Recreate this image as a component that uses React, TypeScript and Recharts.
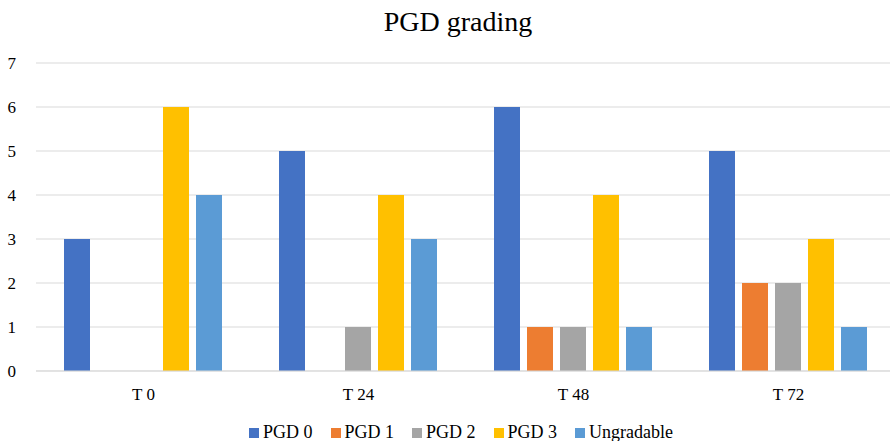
import React from "react";
import { BarChart, Bar, XAxis, YAxis, CartesianGrid, Legend } from "recharts";

const categories = ["T 0", "T 24", "T 48", "T 72"];
const pgd0 = [3, 5, 6, 5];
const pgd1 = [0, 0, 1, 2];
const pgd2 = [0, 1, 1, 2];
const pgd3 = [6, 4, 4, 3];
const ungradable = [4, 3, 1, 1];
const yTicks = [0, 1, 2, 3, 4, 5, 6, 7];

const SERIES = [
  { key: "pgd0", name: "PGD 0", color: "#4472C4", values: pgd0 },
  { key: "pgd1", name: "PGD 1", color: "#ED7D31", values: pgd1 },
  { key: "pgd2", name: "PGD 2", color: "#A5A5A5", values: pgd2 },
  { key: "pgd3", name: "PGD 3", color: "#FFC000", values: pgd3 },
  { key: "ungradable", name: "Ungradable", color: "#5B9BD5", values: ungradable },
];

const data = categories.map((name, i) => {
  const row: Record<string, string | number> = { name };
  SERIES.forEach((s) => (row[s.key] = s.values[i]));
  return row;
});

const FONT = '"Liberation Serif", "Times New Roman", serif';

function LegendContent() {
  return (
    <div style={{ display: "flex", justifyContent: "center", gap: 18, fontFamily: FONT, fontSize: 18, color: "#000", paddingLeft: 26 }}>
      {SERIES.map((s) => (
        <span key={s.key} style={{ display: "flex", alignItems: "center" }}>
          <span style={{ width: 10, height: 10, background: s.color, display: "inline-block", marginRight: 4 }} />
          {s.name}
        </span>
      ))}
    </div>
  );
}

export default function App() {
  return (
    <div style={{ position: "absolute", left: 0, top: 0, width: 890, height: 441, background: "#fff", overflow: "hidden" }}>
      <div
        style={{
          position: "absolute",
          top: 6,
          left: 36,
          width: 844,
          textAlign: "center",
          fontFamily: FONT,
          fontSize: 28,
          color: "#000",
        }}
      >
        PGD grading
      </div>
      <BarChart
        width={896}
        height={441}
        data={data}
        margin={{ top: 63, right: 0, bottom: 0, left: 0 }}
        barCategoryGap={28}
        barGap={7}
      >
        <CartesianGrid vertical={false} stroke="#D9D9D9" strokeWidth={1} />
        <XAxis
          dataKey="name"
          axisLine={{ stroke: "#D9D9D9" }}
          tickLine={false}
          tick={{ fill: "#000", fontFamily: FONT, fontSize: 17 }}
          tickMargin={11}
          height={44}
        />
        <YAxis
          domain={[0, 7]}
          ticks={yTicks}
          axisLine={false}
          tickLine={false}
          width={36}
          tickMargin={14}
          tick={{ fill: "#000", fontFamily: FONT, fontSize: 17 }}
        />
        <Legend verticalAlign="bottom" height={26} wrapperStyle={{ top: 422 }} content={<LegendContent />} />
        {SERIES.map((s) => (
          <Bar key={s.key} dataKey={s.key} name={s.name} fill={s.color} isAnimationActive={false} />
        ))}
      </BarChart>
    </div>
  );
}
